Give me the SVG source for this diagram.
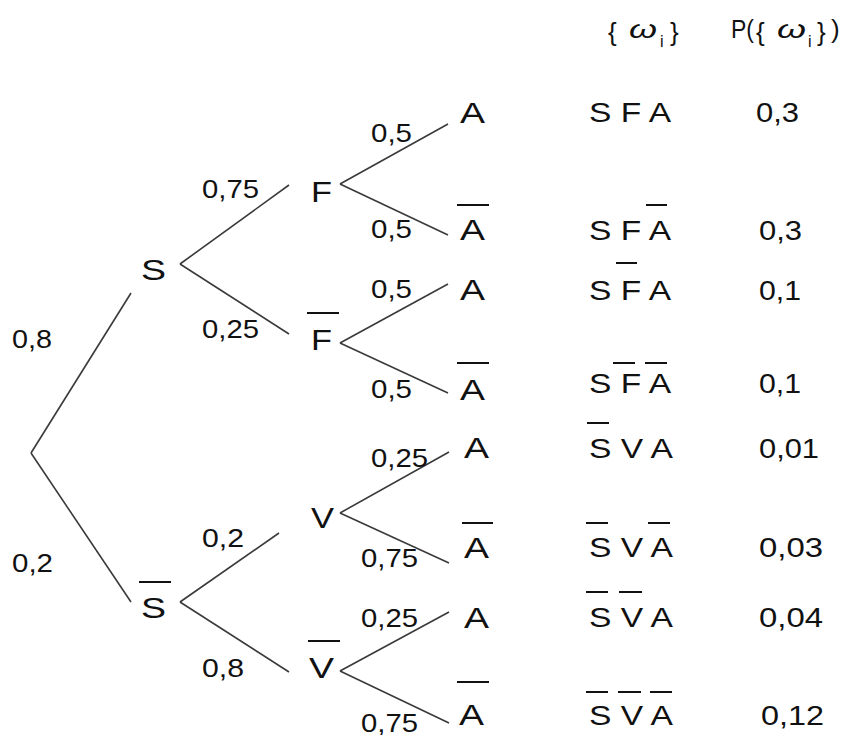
<svg xmlns="http://www.w3.org/2000/svg" width="845" height="735" viewBox="0 0 845 735">
<style>
text{font-family:"Liberation Sans",Arial,sans-serif;fill:#111}
.n{font-size:30px}
.p{font-size:26px}
.w{font-size:28px}
.h{font-size:26px}
.hi{font-size:16px}
.om{font-size:25px;font-style:italic}
.e{stroke:#3a3a3a;stroke-width:1.6;fill:none}
.b{stroke:#111;stroke-width:2}
</style>
<rect width="845" height="735" fill="#fff"/>
<g id="connectors">
<line class="e" x1="31" y1="453" x2="131" y2="293"/>
<line class="e" x1="31" y1="453" x2="131" y2="602"/>
<line class="e" x1="180" y1="264" x2="289" y2="185"/>
<line class="e" x1="180" y1="264" x2="289" y2="334"/>
<line class="e" x1="180" y1="602" x2="279" y2="533"/>
<line class="e" x1="180" y1="602" x2="289" y2="672"/>
<line class="e" x1="340" y1="184" x2="448" y2="124"/>
<line class="e" x1="340" y1="184" x2="448" y2="235"/>
<line class="e" x1="340" y1="343" x2="448" y2="284"/>
<line class="e" x1="340" y1="343" x2="448" y2="393"/>
<line class="e" x1="340" y1="513" x2="449" y2="452"/>
<line class="e" x1="340" y1="513" x2="449" y2="563"/>
<line class="e" x1="340" y1="671" x2="449" y2="612"/>
<line class="e" x1="340" y1="671" x2="449" y2="723"/>
</g>
<g id="edge-labels">
<text class="p" x="12" y="348" textLength="40" lengthAdjust="spacingAndGlyphs">0,8</text>
<text class="p" x="12" y="572" textLength="41" lengthAdjust="spacingAndGlyphs">0,2</text>
<text class="p" x="202" y="198" textLength="57" lengthAdjust="spacingAndGlyphs">0,75</text>
<text class="p" x="202" y="338" textLength="57" lengthAdjust="spacingAndGlyphs">0,25</text>
<text class="p" x="202" y="547" textLength="42" lengthAdjust="spacingAndGlyphs">0,2</text>
<text class="p" x="202" y="677" textLength="42" lengthAdjust="spacingAndGlyphs">0,8</text>
<text class="p" x="371" y="142" textLength="41" lengthAdjust="spacingAndGlyphs">0,5</text>
<text class="p" x="371" y="238" textLength="41" lengthAdjust="spacingAndGlyphs">0,5</text>
<text class="p" x="371" y="298" textLength="41" lengthAdjust="spacingAndGlyphs">0,5</text>
<text class="p" x="371" y="398" textLength="41" lengthAdjust="spacingAndGlyphs">0,5</text>
<text class="p" x="371" y="467" textLength="57" lengthAdjust="spacingAndGlyphs">0,25</text>
<text class="p" x="361" y="567" textLength="57" lengthAdjust="spacingAndGlyphs">0,75</text>
<text class="p" x="361" y="627" textLength="57" lengthAdjust="spacingAndGlyphs">0,25</text>
<text class="p" x="361" y="732" textLength="57" lengthAdjust="spacingAndGlyphs">0,75</text>
</g>
<g id="node-S"><text class="n" x="141" y="280" textLength="25" lengthAdjust="spacingAndGlyphs">S</text></g>
<g id="node-Sbar"><text class="n" x="141" y="618" textLength="25" lengthAdjust="spacingAndGlyphs">S</text><line class="b" x1="139" y1="582" x2="171" y2="582"/></g>
<g id="node-F"><text class="n" x="311" y="202" textLength="21" lengthAdjust="spacingAndGlyphs">F</text></g>
<g id="node-Fbar"><text class="n" x="311" y="350" textLength="21" lengthAdjust="spacingAndGlyphs">F</text><line class="b" x1="307" y1="313" x2="339" y2="313"/></g>
<g id="node-V"><text class="n" x="311" y="528" textLength="23" lengthAdjust="spacingAndGlyphs">V</text></g>
<g id="node-Vbar"><text class="n" x="309" y="678" textLength="25" lengthAdjust="spacingAndGlyphs">V</text><line class="b" x1="308" y1="641" x2="340" y2="641"/></g>
<g id="leaf-1"><text class="n" x="460" y="123" textLength="25" lengthAdjust="spacingAndGlyphs">A</text></g>
<g id="leaf-2"><text class="n" x="460" y="240" textLength="25" lengthAdjust="spacingAndGlyphs">A</text><line class="b" x1="457" y1="205" x2="489" y2="205"/></g>
<g id="leaf-3"><text class="n" x="460" y="300" textLength="25" lengthAdjust="spacingAndGlyphs">A</text></g>
<g id="leaf-4"><text class="n" x="460" y="400" textLength="25" lengthAdjust="spacingAndGlyphs">A</text><line class="b" x1="457" y1="363" x2="489" y2="363"/></g>
<g id="leaf-5"><text class="n" x="464" y="458" textLength="25" lengthAdjust="spacingAndGlyphs">A</text></g>
<g id="leaf-6"><text class="n" x="464" y="558" textLength="25" lengthAdjust="spacingAndGlyphs">A</text><line class="b" x1="462" y1="523" x2="493" y2="523"/></g>
<g id="leaf-7"><text class="n" x="464" y="628" textLength="25" lengthAdjust="spacingAndGlyphs">A</text></g>
<g id="leaf-8"><text class="n" x="459" y="725" textLength="25" lengthAdjust="spacingAndGlyphs">A</text><line class="b" x1="457" y1="682" x2="489" y2="682"/></g>
<g id="header">
<text class="h" x="608" y="41">{</text>
<text class="om" x="629" y="38" textLength="28" lengthAdjust="spacingAndGlyphs">ω</text>
<text class="hi" x="660" y="47">i</text>
<text class="h" x="670" y="41">}</text>
<text class="h" x="731" y="38" textLength="23" lengthAdjust="spacingAndGlyphs">P(</text>
<text class="h" x="756" y="41">{</text>
<text class="om" x="777" y="38" textLength="29" lengthAdjust="spacingAndGlyphs">ω</text>
<text class="hi" x="808" y="47">i</text>
<text class="h" x="817" y="41">}</text>
<text class="h" x="831" y="38">)</text>
</g>
<g id="outcomes">
<text class="w" x="589" y="122" textLength="82" lengthAdjust="spacingAndGlyphs">S F A</text>
<text class="w" x="589" y="240" textLength="82" lengthAdjust="spacingAndGlyphs">S F A</text>
<line class="b" x1="646" y1="205" x2="667" y2="205"/>
<text class="w" x="589" y="300" textLength="82" lengthAdjust="spacingAndGlyphs">S F A</text>
<line class="b" x1="616" y1="263" x2="637" y2="263"/>
<text class="w" x="589" y="393" textLength="82" lengthAdjust="spacingAndGlyphs">S F A</text>
<line class="b" x1="613" y1="363" x2="635" y2="363"/>
<line class="b" x1="645" y1="363" x2="667" y2="363"/>
<text class="w" x="589" y="458" textLength="84" lengthAdjust="spacingAndGlyphs">S V A</text>
<line class="b" x1="587" y1="423" x2="609" y2="423"/>
<text class="w" x="589" y="557" textLength="84" lengthAdjust="spacingAndGlyphs">S V A</text>
<line class="b" x1="586" y1="523" x2="608" y2="523"/>
<line class="b" x1="648" y1="523" x2="670" y2="523"/>
<text class="w" x="589" y="627" textLength="84" lengthAdjust="spacingAndGlyphs">S V A</text>
<line class="b" x1="586" y1="592" x2="608" y2="592"/>
<line class="b" x1="619" y1="592" x2="642" y2="592"/>
<text class="w" x="589" y="725" textLength="84" lengthAdjust="spacingAndGlyphs">S V A</text>
<line class="b" x1="586" y1="692" x2="608" y2="692"/>
<line class="b" x1="618" y1="692" x2="641" y2="692"/>
<line class="b" x1="650" y1="692" x2="672" y2="692"/>
</g>
<g id="probabilities">
<text class="w" x="756" y="122" textLength="43" lengthAdjust="spacingAndGlyphs">0,3</text>
<text class="w" x="759" y="240" textLength="43" lengthAdjust="spacingAndGlyphs">0,3</text>
<text class="w" x="759" y="300" textLength="42" lengthAdjust="spacingAndGlyphs">0,1</text>
<text class="w" x="759" y="393" textLength="42" lengthAdjust="spacingAndGlyphs">0,1</text>
<text class="w" x="759" y="458" textLength="60" lengthAdjust="spacingAndGlyphs">0,01</text>
<text class="w" x="759" y="557" textLength="64" lengthAdjust="spacingAndGlyphs">0,03</text>
<text class="w" x="759" y="627" textLength="64" lengthAdjust="spacingAndGlyphs">0,04</text>
<text class="w" x="761" y="725" textLength="63" lengthAdjust="spacingAndGlyphs">0,12</text>
</g>
</svg>
